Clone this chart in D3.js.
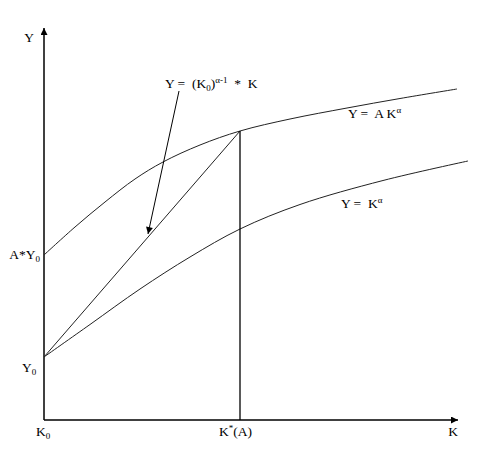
<!DOCTYPE html>
<html><head><meta charset="utf-8">
<script src="https://cdn.jsdelivr.net/npm/d3@7"></script>
<style>body{margin:0;background:#fff}svg{display:block}text{font-family:"Liberation Serif","Times New Roman",serif;fill:#000}</style>
</head><body>
<svg id="c" width="487" height="457"></svg>
<script>
// values (K offset from K0, Y offset from axis)
const upperK = [0, 31, 61, 91, 119, 156, 196, 246, 303, 356, 413];
const upperY = [165, 193, 218, 241, 258, 275, 289, 301, 312, 321.5, 331];
const lowerK = [0, 46, 96, 146, 196, 256, 339, 424];
const lowerY = [63, 95.5, 131, 163, 191, 215.5, 239.5, 259];
const K0 = 0, Kstar = 196, Y0 = 63, AY0 = 166, Ystar = 289;
const arrowFrom = [135, 329], arrowTo = [104, 186];

const svg = d3.select("#c");
const x = d3.scaleLinear().domain([0, 414]).range([44, 458]);
const y = d3.scaleLinear().domain([0, 392]).range([420, 28]);

const defs = svg.append("defs");
defs.append("marker").attr("id","ah").attr("viewBox","0 0 10 10").attr("refX",10).attr("refY",5)
  .attr("markerWidth",7).attr("markerHeight",7).attr("markerUnits","userSpaceOnUse").attr("orient","auto")
  .append("path").attr("d","M0,0L10,5L0,10z").attr("fill","#000");
defs.append("marker").attr("id","ah2").attr("viewBox","0 0 10 10").attr("refX",10).attr("refY",5)
  .attr("markerWidth",9).attr("markerHeight",7).attr("markerUnits","userSpaceOnUse").attr("orient","auto")
  .append("path").attr("d","M0,0L10,5L0,10z").attr("fill","#000");

// axes
svg.append("line").attr("x1",x(0)).attr("y1",y(0)).attr("x2",x(0)).attr("y2",y(392))
  .attr("stroke","#000").attr("stroke-width",1.5).attr("marker-end","url(#ah)");
svg.append("line").attr("x1",x(0)).attr("y1",y(0)).attr("x2",x(414)).attr("y2",y(0))
  .attr("stroke","#000").attr("stroke-width",1.5).attr("marker-end","url(#ah)");

const line = d3.line().x(d=>x(d[0])).y(d=>y(d[1])).curve(d3.curveCatmullRom.alpha(0.5));
svg.append("path").attr("d", line(upperK.map((k,i)=>[k, upperY[i]])))
  .attr("fill","none").attr("stroke","#222").attr("stroke-width",1);
svg.append("path").attr("d", line(lowerK.map((k,i)=>[k, lowerY[i]])))
  .attr("fill","none").attr("stroke","#222").attr("stroke-width",1);

// ray
svg.append("line").attr("x1",x(K0)).attr("y1",y(Y0)).attr("x2",x(Kstar)).attr("y2",y(Ystar))
  .attr("stroke","#222").attr("stroke-width",1);
// vertical
svg.append("line").attr("x1",x(Kstar)).attr("y1",y(0)).attr("x2",x(Kstar)).attr("y2",y(Ystar))
  .attr("stroke","#000").attr("stroke-width",1.3);
// pointer arrow
svg.append("line").attr("x1",x(arrowFrom[0])).attr("y1",y(arrowFrom[1])).attr("x2",x(arrowTo[0])).attr("y2",y(arrowTo[1]))
  .attr("stroke","#000").attr("stroke-width",1).attr("marker-end","url(#ah2)");

const FS = 13.5;
// axis labels
svg.append("text").attr("x",29).attr("y",42).attr("font-size",FS).attr("text-anchor","middle").text("Y");
svg.append("text").attr("x",x(414)).attr("y",436).attr("font-size",FS).attr("text-anchor","end").text("K");
const k0 = svg.append("text").attr("x",x(K0)-8).attr("y",436).attr("font-size",FS);
k0.append("tspan").text("K");
k0.append("tspan").text("0").attr("font-size",9).attr("dy",3);
const ks = svg.append("text").attr("x",x(Kstar)-21).attr("y",436).attr("font-size",FS);
ks.append("tspan").text("K");
ks.append("tspan").text("*").attr("font-size",9).attr("dy",-5);
ks.append("tspan").text("(A)").attr("dy",5);
const ay = svg.append("text").attr("x",40).attr("y",y(AY0)+5).attr("font-size",FS).attr("text-anchor","end");
ay.append("tspan").text("A*Y");
ay.append("tspan").text("0").attr("font-size",9).attr("dy",3);
const yz = svg.append("text").attr("x",22).attr("y",y(Y0)+15).attr("font-size",FS);
yz.append("tspan").text("Y");
yz.append("tspan").text("0").attr("font-size",9).attr("dy",3);

// formula labels
const f1 = svg.append("text").attr("x",165).attr("y",88).attr("font-size",FS).attr("xml:space","preserve");
f1.append("tspan").text("Y =  (K");
f1.append("tspan").text("0").attr("font-size",9).attr("dy",3);
f1.append("tspan").text(")").attr("dy",-3);
f1.append("tspan").text("α-1").attr("font-size",9).attr("dy",-5);
f1.append("tspan").text("  *  K").attr("dy",5);

const f2 = svg.append("text").attr("x",348).attr("y",118).attr("font-size",FS).attr("xml:space","preserve");
f2.append("tspan").text("Y =  A K");
f2.append("tspan").text("α").attr("font-size",9).attr("dy",-5);

const f3 = svg.append("text").attr("x",341).attr("y",208).attr("font-size",FS).attr("xml:space","preserve");
f3.append("tspan").text("Y =  K");
f3.append("tspan").text("α").attr("font-size",9).attr("dy",-5);
</script>
</body></html>
